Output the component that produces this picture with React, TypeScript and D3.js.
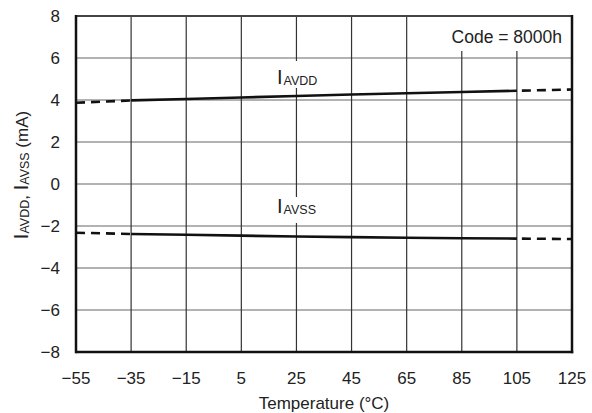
import React from "react";
import * as d3 from "d3";

const temps = [-55, -35, -15, 5, 25, 45, 65, 85, 105, 125];
const iavdd = [3.87, 3.98, 4.05, 4.12, 4.19, 4.26, 4.32, 4.38, 4.44, 4.5];
const iavss = [-2.32, -2.38, -2.42, -2.46, -2.5, -2.53, -2.56, -2.58, -2.6, -2.62];
const xTicks = [-55, -35, -15, 5, 25, 45, 65, 85, 105, 125];
const yTicks = [-8, -6, -4, -2, 0, 2, 4, 6, 8];

const W = 592;
const H = 413;
const FONT = "'Liberation Sans', Arial, Helvetica, sans-serif";

const fmt = (v: number) => (v < 0 ? "\u2212" + Math.abs(v) : String(v));

export default function App() {
  const x = d3.scaleLinear().domain([-55, 125]).range([76, 572]);
  const y = d3.scaleLinear().domain([-8, 8]).range([352, 16]);

  const line = d3
    .line<[number, number]>()
    .x((d) => x(d[0]))
    .y((d) => y(d[1]));

  const series = [iavdd, iavss].map((vals) =>
    temps.map((t, i) => [t, vals[i]] as [number, number])
  );

  const solidIdx = (pts: [number, number][]) => pts.slice(1, 9);
  const dashL = (pts: [number, number][]) => pts.slice(0, 2);
  const dashR = (pts: [number, number][]) => pts.slice(8, 10);

  return (
    <svg
      width={W}
      height={H}
      style={{ position: "absolute", left: 0, top: 0, background: "#fff" }}
      fontFamily={FONT}
    >
      <rect x={0} y={0} width={W} height={H} fill="#fff" />
      {/* grid */}
      {yTicks.slice(1, -1).map((t) => (
        <line
          key={"gy" + t}
          x1={x(-55)}
          x2={x(125)}
          y1={y(t)}
          y2={y(t)}
          stroke="#666"
          strokeWidth={1.2}
        />
      ))}
      {xTicks.slice(1, -1).map((t) => (
        <line
          key={"gx" + t}
          x1={x(t)}
          x2={x(t)}
          y1={y(8)}
          y2={y(-8)}
          stroke="#333"
          strokeWidth={1.2}
        />
      ))}
      {/* label backgrounds */}
      <rect x={440} y={17} width={131} height={34} fill="#fff" />
      <rect x={274} y={61} width={48} height={27} fill="#fff" />
      <rect x={274} y={197} width={48} height={26} fill="#fff" />

      {/* frame */}
      <line x1={x(-55)} x2={x(125)} y1={y(8)} y2={y(8)} stroke="#444" strokeWidth={2} />
      <line x1={x(-55)} x2={x(125) + 1.25} y1={y(-8)} y2={y(-8)} stroke="#111" strokeWidth={2.5} />
      <line x1={x(-55)} x2={x(-55)} y1={y(8) - 1} y2={y(-8) + 1.25} stroke="#111" strokeWidth={2.5} />
      <line x1={x(125)} x2={x(125)} y1={y(8) - 1} y2={y(-8) + 1.25} stroke="#111" strokeWidth={2.5} />

      {/* data lines */}
      {series.map((pts, k) => (
        <g key={"s" + k}>
          <path d={line(solidIdx(pts)) || ""} fill="none" stroke="#111" strokeWidth={2.6} />
          <path
            d={line(dashL(pts)) || ""}
            fill="none"
            stroke="#111"
            strokeWidth={2.6}
            strokeDasharray="9,6"
          />
          <path
            d={line(dashR(pts)) || ""}
            fill="none"
            stroke="#111"
            strokeWidth={2.6}
            strokeDasharray="9,6"
            strokeDashoffset={-5}
          />
        </g>
      ))}

      {/* series labels */}
      <text x={277} y={83.5} fill="#222">
        <tspan fontSize={20}>I</tspan>
        <tspan fontSize={12.5} dx={1} dy={1}>AVDD</tspan>
      </text>
      <text x={277} y={213} fill="#222">
        <tspan fontSize={20}>I</tspan>
        <tspan fontSize={12.5} dx={1} dy={1}>AVSS</tspan>
      </text>

      {/* code label */}
      <text x={562} y={43} textAnchor="end" fontSize={17.5} fill="#222">
        Code = 8000h
      </text>

      {/* y ticks */}
      {yTicks.map((t) => (
        <text
          key={"yt" + t}
          x={60}
          y={y(t) + 6}
          textAnchor="end"
          fontSize={17}
          fill="#222"
        >
          {fmt(t)}
        </text>
      ))}
      {/* x ticks */}
      {xTicks.map((t) => (
        <text
          key={"xt" + t}
          x={x(t)}
          y={384}
          textAnchor="middle"
          fontSize={17}
          fill="#222"
        >
          {fmt(t)}
        </text>
      ))}

      {/* axis titles */}
      <text x={324} y={409} textAnchor="middle" fontSize={17} fill="#222">
        Temperature (°C)
      </text>
      <text
        transform="translate(28,175) rotate(-90)"
        textAnchor="middle"
        fontSize={17}
        fill="#222"
      >
        <tspan fontSize={20}>I</tspan>
        <tspan fontSize={12.5} dy={1}>AVDD</tspan>
        <tspan dy={-1}>, </tspan>
        <tspan fontSize={20}>I</tspan>
        <tspan fontSize={12.5} dy={1}>AVSS</tspan>
        <tspan dy={-1}> (mA)</tspan>
      </text>
    </svg>
  );
}
